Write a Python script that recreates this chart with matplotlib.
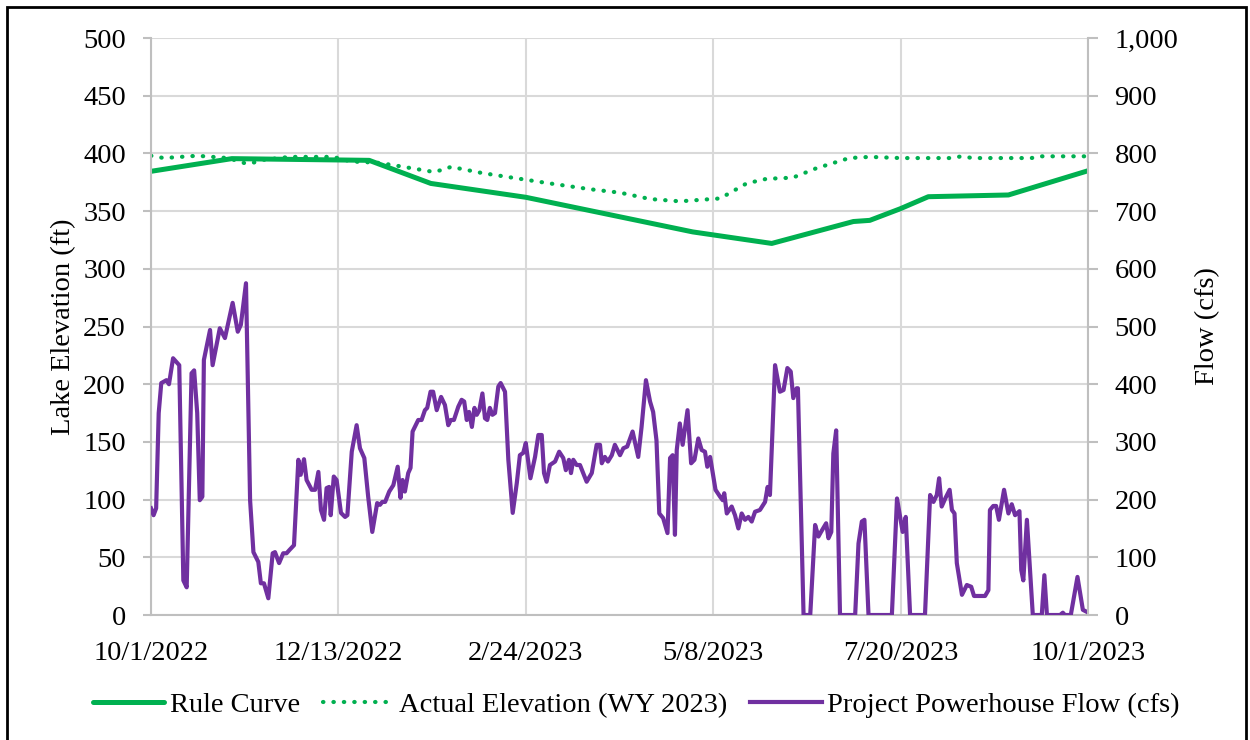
import pandas as pd
import matplotlib
matplotlib.use("Agg")
import matplotlib.pyplot as plt
from matplotlib.patches import Rectangle

plt.rcParams['font.family'] = ['Liberation Serif', 'DejaVu Serif']

start = pd.Timestamp('2022-10-01')

# Rule curve (ft), day offset from 10/1/2022
rule_day = [0, 31.5, 85, 109, 146, 211, 241.8, 273.6, 280, 291.8, 302.8, 334, 365]
rule_ft = [384.5, 395.5, 394, 374, 362, 332, 322, 341, 342, 352, 362.5, 364, 385]

# Actual elevation WY 2023 (ft)
actual_day = [0, 5, 18, 30, 36.6, 39, 44, 54, 71, 78, 88, 94, 102, 110, 114, 117, 120,
              129, 143.7, 155.4, 171, 182.7, 194.4, 206, 221.7, 232, 239.8, 250, 259,
              272, 280, 292, 311, 316, 320, 343, 346, 365]
actual_ft = [398, 396, 398, 396, 391.5, 391.5, 394.5, 397, 397, 393, 392, 390, 387, 384,
             386, 388.5, 387, 383, 378, 374, 369, 366, 360.5, 358.5, 361, 374, 378, 379,
             387, 396, 397, 396, 396, 397.5, 396, 396, 397.5, 397.5]

# Project powerhouse flow (cfs)
flow_day = [0, 1, 2, 3, 4, 6, 7, 8.6, 11, 12.6, 13.9, 15.8, 16.8, 18, 19, 20, 20.6, 23, 24,
            26.8, 28.8, 31.8, 33.8, 35, 37, 38.6, 39.9, 41.8, 42.8, 44, 45.7, 47.4, 48.3,
            49.9, 51.5, 52.8, 54, 55.7, 57.4, 58.3, 59.6, 60.6, 62.6, 63.9, 65.2, 66.2,
            67.4, 68.4, 69.4, 70, 71.2, 72.3, 74, 75.6, 76.5, 78.2, 80.1, 81.4, 83.1, 84.6,
            86.2, 88.1, 89.2, 90.1, 91.2, 92.8, 94.4, 96.1, 97.2, 98, 98.9, 100.2, 101.1,
            101.9, 104.1, 105.4, 106.7, 107.6, 108.9, 109.9, 111.3, 113, 114.5, 115.8,
            116.8, 118, 119.7, 121, 122, 123, 123.9, 125, 126, 126.9, 127.9, 129.1, 130.1,
            131, 132, 133, 134, 135.3, 136.2, 137.9, 139.2, 140.9, 142.5, 143.7, 145, 146,
            147.8, 149.6, 150.9, 152.2, 153.1, 154.1, 155.4, 157.4, 159, 160.6, 161.6,
            162.8, 163.6, 164.5, 165.8, 167.1, 169.7, 171.7, 173.6, 174.9, 175.6, 176.8,
            178, 179.5, 180.7, 182.7, 184, 185.5, 187.6, 188.5, 189.8, 191.1, 192.8, 194.4,
            195.6, 196.9, 198, 199.5, 201.2, 202.2, 203.2, 204.1, 204.8, 206, 207.1, 209,
            210.4, 211.7, 213.2, 214.5, 215.8, 216.7, 217.8, 219.9, 221.7, 222.7, 223.3,
            224.3, 226.2, 227.5, 228.8, 230.1, 231.4, 232.7, 234, 235.3, 237.2, 239.2,
            240.2, 241.1, 243.1, 245, 246.4, 247.9, 249.2, 250.2, 251.5, 252, 254.2, 256.8,
            258.7, 260, 261, 263, 263.9, 265, 265.8, 266.9, 268.4, 274.3, 275.6, 276.9,
            277.9, 279.5, 288.6, 290.6, 292.8, 294, 295.7, 301.5, 303.5, 304.8, 306.1, 307,
            308, 309.4, 311.1, 312, 313, 313.9, 315.9, 317.8, 319.5, 320.6, 324.9, 326.2,
            326.8, 328.1, 329.2, 330.3, 332.3, 334, 335.3, 336.6, 338.3, 339, 339.8, 341.2,
            343.5, 347, 348, 349, 354.1, 355.2, 356, 358.3, 360.9, 363, 364.3]
flow_cfs = [185, 173, 185, 350, 402, 407, 400, 445, 433, 60, 48, 419, 424, 350, 199, 205,
            442, 494, 433, 497, 480, 541, 491, 503, 575, 199, 109, 92, 55, 55, 29, 107, 109,
            90, 107, 107, 113, 121, 269, 243, 270, 234, 217, 217, 248, 182, 165, 220, 222,
            173, 240, 234, 177, 170, 173, 283, 329, 289, 272, 205, 144, 194, 191, 196, 196,
            214, 225, 257, 203, 234, 214, 246, 255, 318, 338, 338, 355, 359, 387, 387, 355,
            378, 364, 329, 338, 338, 361, 373, 370, 338, 352, 326, 359, 347, 355, 384, 341,
            338, 359, 347, 350, 396, 402, 387, 269, 177, 229, 277, 281, 298, 237, 274, 312,
            312, 246, 231, 260, 266, 283, 272, 251, 269, 246, 269, 260, 260, 231, 246, 295,
            295, 263, 274, 266, 277, 295, 277, 289, 292, 318, 300, 274, 326, 407, 370, 352,
            303, 176, 168, 142, 272, 277, 139, 286, 332, 295, 355, 263, 269, 306, 286, 283,
            257, 274, 217, 205, 199, 211, 176, 188, 173, 150, 176, 165, 170, 162, 179, 182,
            196, 222, 208, 433, 387, 390, 428, 422, 376, 393, 393, 0, 0, 156, 136, 144, 159,
            133, 144, 280, 320, 0, 0, 124, 162, 165, 0, 0, 202, 144, 170, 0, 0, 208, 196,
            208, 237, 188, 202, 217, 182, 176, 90, 35, 52, 49, 33, 33, 43, 182, 189, 189,
            165, 217, 176, 192, 173, 180, 78, 60, 165, 0, 0, 69, 0, 0, 4, 0, 0, 66, 9, 6]

tick_dates = ['2022-10-01', '2022-12-13', '2023-02-24', '2023-05-08', '2023-07-20', '2023-10-01']


def to_dates(days):
    return start + pd.to_timedelta(days, unit='D')


green = '#00B050'
purple = '#7030A0'
grid_c = '#D9D9D9'
spine_c = '#BFBFBF'
fs = 20.5

fig = plt.figure(figsize=(12.5, 7.4), dpi=100)
ax = fig.add_axes([0.1208, 0.1689, 0.7496, 0.7797])
ax2 = ax.twinx()

l1, = ax.plot(to_dates(rule_day), rule_ft, color=green, lw=3.6, label='Rule Curve',
              solid_capstyle='round')
l2, = ax.plot(to_dates(actual_day), actual_ft, color=green, lw=3.0, dashes=[0.1, 2.4],
              dash_capstyle='round', label='Actual Elevation (WY 2023)')
l3, = ax2.plot(to_dates(flow_day), flow_cfs, color=purple, lw=3.0,
               label='Project Powerhouse Flow (cfs)', solid_joinstyle='round')

ax.set_xlim(pd.Timestamp(tick_dates[0]), pd.Timestamp(tick_dates[-1]))
ax.set_ylim(0, 500)
ax2.set_ylim(0, 1000)
ax.set_yticks(range(0, 501, 50))
ax2.set_yticks(range(0, 1001, 100))
ax2.set_yticklabels([f'{v:,}' for v in range(0, 1001, 100)])

ticks = [pd.Timestamp(d) for d in tick_dates]
ax.set_xticks(ticks)
ax.set_xticklabels([f'{d.month}/{d.day}/{d.year}' for d in ticks])

ax.grid(True, color=grid_c, lw=1.5)
ax.set_axisbelow(True)
for a in (ax, ax2):
    for s in a.spines.values():
        s.set_visible(False)
for a, side in ((ax, 'left'), (ax, 'bottom'), (ax2, 'right')):
    a.spines[side].set_visible(True)
    a.spines[side].set_color(spine_c)
    a.spines[side].set_linewidth(1.5)

ax.tick_params(axis='y', length=6, width=1.5, color=spine_c, pad=12, labelsize=fs)
ax2.tick_params(axis='y', length=7, width=1.5, color=spine_c, pad=12, labelsize=fs)
ax.tick_params(axis='x', length=0, pad=19, labelsize=fs)

ax.set_ylabel('Lake Elevation (ft)', fontsize=fs, labelpad=5)
ax2.set_ylabel('Flow (cfs)', fontsize=fs, labelpad=12)

fig.legend(handles=[l1, l2, l3], loc='center', bbox_to_anchor=(0.509, 0.047), ncol=3,
           frameon=False, fontsize=fs, handlelength=2.5, handletextpad=0.2,
           columnspacing=0.8)

fig.patches.append(Rectangle((0.0056, -0.01), 0.9915, 1.0005, transform=fig.transFigure,
                             fill=False, edgecolor='black', lw=2))

fig.savefig('out.png', dpi=100)
